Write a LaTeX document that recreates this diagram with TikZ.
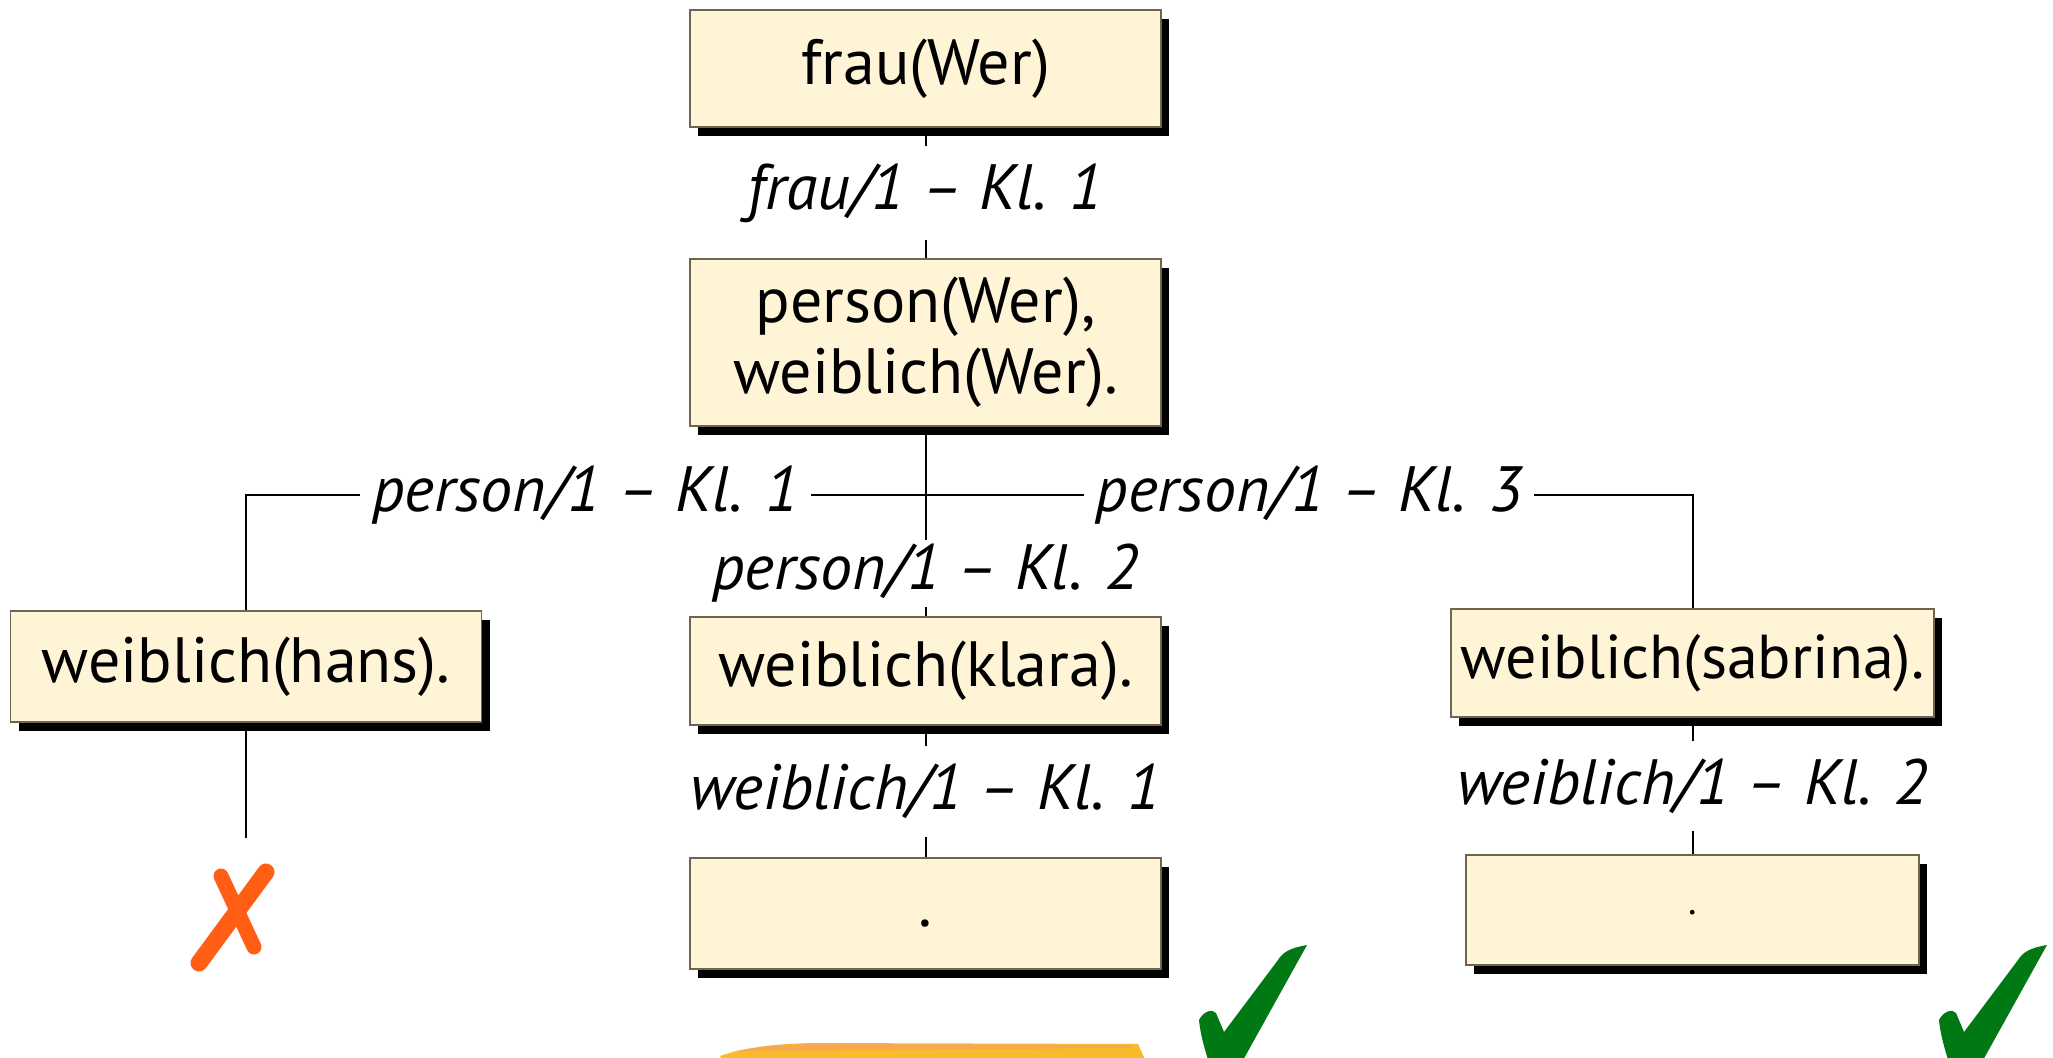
\documentclass[tikz,border=0pt]{standalone}
\usepackage{fontspec}
\setmainfont{PT Sans}
\usetikzlibrary{shadows}
\definecolor{boxfill}{RGB}{255,245,214}
\definecolor{boxline}{RGB}{110,100,80}
\definecolor{xorange}{RGB}{255,94,20}
\definecolor{okgreen}{RGB}{0,120,20}
\definecolor{hlyellow}{RGB}{249,186,44}
\definecolor{hlorange}{RGB}{242,160,100}
\begin{document}
\begin{tikzpicture}[x=0.5pt,y=-0.5pt,
  box/.style={draw=boxline, line width=0.8pt, fill=boxfill, inner sep=0pt,
    minimum width=235.5pt, minimum height=55pt, font=\fontsize{32}{35.5}\selectfont,
    drop shadow={shadow xshift=4pt, shadow yshift=-4.5pt, opacity=1, fill=black}},
  lbl/.style={fill=white, font=\fontsize{32}{36}\selectfont\itshape, inner xsep=6pt, inner ysep=9pt},
  conn/.style={draw=black, line width=1pt}]
\useasboundingbox (0,0) rectangle (2053,1058);
\fill[white] (0,0) rectangle (2053,1058);

% boxes
\node[box, minimum height=58.5pt] (frau) at (925.5,68.5) {frau(Wer)};
\node[box, align=center, minimum height=83.5pt] (person) at (925.5,342.5) {person(Wer),\\ weiblich(Wer).};
\node[box, minimum height=55.5pt] (hans) at (246,666.5) {weiblich(hans).};
\node[box, minimum height=54pt] (klara) at (925.5,671) {weiblich(klara).};
\node[box, minimum width=241.5pt, minimum height=54pt, font=\fontsize{31}{35}\selectfont] (sabrina) at (1692.5,663) {weiblich(sabrina).};
\node[box, minimum height=55.5pt, text height=13.5pt, text depth=0pt] (ok1) at (925.5,913.5) {.};
\node[box, minimum width=226.5pt, minimum height=55pt, text height=4pt, text depth=0pt,
      font=\fontsize{20}{20}\selectfont] (ok2) at (1692.5,910) {.};

\coordinate (split) at (925.5,495);
\coordinate (hansend) at (246,838);

% connectors
\draw[conn] (frau) -- node[lbl] {frau/1 -- Kl. 1} (person);
\draw[conn] (person.south) -- (split) -- node[lbl] {person/1 -- Kl. 1} (split -| hans.north) -- (hans.north);
\draw[conn] (person.south) -- (split) -- node[lbl] {person/1 -- Kl. 3} (split -| sabrina.north) -- (sabrina.north);
\draw[conn] (person) -- node[lbl, pos=0.775, inner ysep=2pt] {person/1 -- Kl. 2} (klara);
\draw[conn] (klara) -- node[lbl] {weiblich/1 -- Kl. 1} (ok1);
\draw[conn] (sabrina) -- node[lbl] {weiblich/1 -- Kl. 2} (ok2);
\draw[conn] (hans) -- (hansend);

% failure mark
\draw[xorange, line width=7.5pt, line cap=round] (221,876) -- (254,947);
\draw[xorange, line width=8.5pt, line cap=round] (266,872) -- (199,963);

% success marks
\foreach \dx in {0,740}{
  \fill[okgreen, xshift=\dx*0.5pt] (1307,945) .. controls (1290,948) and (1283,952) .. (1278,960)
    -- (1224,1032) -- (1216,1013) .. controls (1212,1008) and (1203,1012) .. (1199,1020)
    .. controls (1201,1040) and (1208,1060) .. (1215,1080) -- (1232,1080) -- cycle;
}

% highlighter stroke
\fill[hlyellow] (720,1056) .. controls (750,1046) and (780,1044) .. (810,1043)
  -- (1138,1044) -- (1146,1062) -- (725,1064) -- cycle;
\fill[hlorange, opacity=0.6] (730,1052) .. controls (760,1046) and (790,1044) .. (820,1044)
  -- (1130,1045) -- (1132,1048) -- (740,1051) -- cycle;
\end{tikzpicture}
\end{document}
